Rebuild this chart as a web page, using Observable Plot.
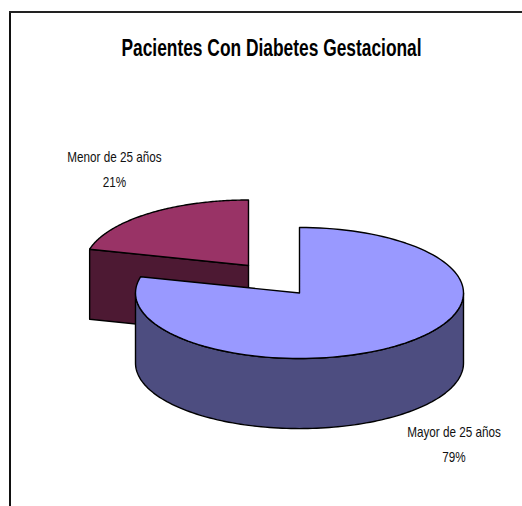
<!DOCTYPE html>
<html>
<head>
<meta charset="utf-8">
<script src="https://cdn.jsdelivr.net/npm/d3@7"></script>
<script src="https://cdn.jsdelivr.net/npm/@observablehq/plot@0.6"></script>
<style>
  html, body { margin: 0; padding: 0; background: #fff; }
  svg { display: block; }
</style>
</head>
<body>
<div id="chart"></div>
<script>
// Patient groups and their shares, in percent
const categories = ["Menor de 25 años", "Mayor de 25 años"];
const shares = [21, 79];
const topColors = ["#993366", "#9999FF"];
const wallColors = ["#4D1933", "#4D4D80"];
const chartTitle = "Pacientes Con Diabetes Gestacional";

// Pie units: radius 1 on both axes; the scale ranges give the tilted ellipse
const depth = 1.07;
const explode = [[-0.311, 0.42], [0, 0]];

// The pie starts at twelve o'clock with the larger group, going clockwise
const total = d3.sum(shares);
const sweep = shares.map(s => (s / total) * 2 * Math.PI);
const startAngle = [2 * Math.PI - sweep[0], 0];

const rim = (i, a, drop = 0) => ({
  x: explode[i][0] + Math.sin(a),
  y: explode[i][1] + Math.cos(a) - drop
});
const arc = (i, a0, a1, drop = 0) =>
  d3.range(0, 121).map(k => rim(i, a0 + ((a1 - a0) * k) / 120, drop));
const hub = (i, drop = 0) => ({ x: explode[i][0], y: explode[i][1] - drop });

const polygons = [];
const add = (pts, fill) => polygons.push({ pts, fill });

// Smaller slice, pulled out to the upper left: its cut wall, then its top
const a0 = startAngle[0];
add([rim(0, a0), hub(0), hub(0, depth), rim(0, a0, depth)], wallColors[0]);
add([hub(0), ...arc(0, a0, a0 + sweep[0])], topColors[0]);

// Larger slice: the visible front wall, then its top
add([...arc(1, Math.PI / 2, Math.PI * 1.5), ...arc(1, Math.PI * 1.5, Math.PI / 2, depth)], wallColors[1]);
add([hub(1), ...arc(1, 0, sweep[1])], topColors[1]);

const rows = polygons.flatMap((p, id) =>
  [...p.pts, p.pts[0]].map(pt => ({ ...pt, id, fill: p.fill }))
);

const labels = categories.map((c, i) => `${c}\n${shares[i]}%`);
const labelOffset = [[104.5, 132], [444, 407]];

const labelMark = i => Plot.text([labels[i]], {
  text: d => d,
  frameAnchor: "top-left",
  dx: labelOffset[i][0],
  dy: labelOffset[i][1],
  textAnchor: "middle",
  lineAnchor: "top",
  lineHeight: 1.667,
  fontSize: 15,
  fontFamily: "'Liberation Sans', sans-serif",
  fill: "#111",
  className: "pie-label"
});

const chart = Plot.plot({
  width: 522,
  height: 506,
  marginLeft: 9.5,
  marginTop: 11.5,
  marginRight: 0,
  marginBottom: 0,
  x: { domain: [-1, 1], range: [135, 463], axis: null },
  y: { domain: [-1, 1], range: [358, 227], axis: null },
  marks: [
    Plot.frame({ anchor: "left", stroke: "#111", strokeWidth: 2 }),
    Plot.frame({ anchor: "top", stroke: "#222", strokeWidth: 2 }),
    ...polygons.map((_, id) =>
      Plot.line(rows.filter(r => r.id === id), {
        x: "x", y: "y",
        fill: polygons[id].fill,
        stroke: "#000",
        strokeWidth: 1.4,
        strokeLinejoin: "round"
      })
    ),
    Plot.text([chartTitle], {
      text: d => d,
      frameAnchor: "top-left",
      dx: 261.5,
      dy: 27.2,
      textAnchor: "middle",
      lineAnchor: "top",
      fontSize: 23,
      fontWeight: "bold",
      fontFamily: "'Liberation Sans', sans-serif",
      fill: "#000",
      className: "pie-title"
    }),
    labelMark(0),
    labelMark(1)
  ]
});
document.getElementById("chart").append(chart);

// Condense the lettering once it can be measured in the document
const condense = (el, k) => {
  el.setAttribute("textLength", el.getComputedTextLength() * k);
  el.setAttribute("lengthAdjust", "spacingAndGlyphs");
};
chart.querySelectorAll(".pie-title text").forEach(el => condense(el, 0.755));
chart.querySelectorAll(".pie-label tspan").forEach(el => condense(el, 0.78));
</script>
</body>
</html>
